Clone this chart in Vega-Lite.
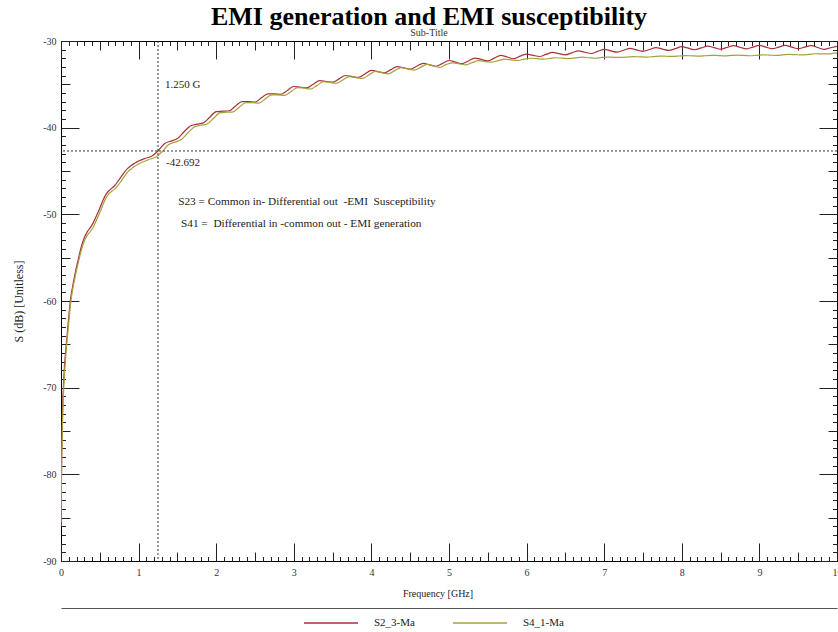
{
  "$schema": "https://vega.github.io/schema/vega-lite/v6.json",
  "width": 776,
  "height": 520,
  "autosize": {"type": "none"},
  "padding": {"left": 61, "top": 41, "right": 1, "bottom": 71},
  "background": "#ffffff",
  "title": {
    "text": "EMI generation and EMI susceptibility",
    "subtitle": "Sub-Title",
    "font": "Liberation Serif",
    "fontSize": 26,
    "fontWeight": "bold",
    "color": "#000000",
    "anchor": "middle",
    "frame": "group",
    "dx": -20,
    "offset": -2,
    "subtitleFont": "Liberation Serif",
    "subtitleFontSize": 10,
    "subtitleColor": "#333333",
    "subtitlePadding": -2
  },
  "datasets": {
    "traces": [
      {"series":"S2_3-Ma","f":0,"s":-85.5},{"series":"S2_3-Ma","f":0.005,"s":-80.5},{"series":"S2_3-Ma","f":0.012,"s":-76},{"series":"S2_3-Ma","f":0.02,"s":-72.5},{"series":"S2_3-Ma","f":0.03,"s":-70},{"series":"S2_3-Ma","f":0.045,"s":-67.5},{"series":"S2_3-Ma","f":0.06,"s":-65.8},{"series":"S2_3-Ma","f":0.08,"s":-63.8},{"series":"S2_3-Ma","f":0.1,"s":-61.8},{"series":"S2_3-Ma","f":0.12,"s":-60.0},{"series":"S2_3-Ma","f":0.15,"s":-58.3},{"series":"S2_3-Ma","f":0.18,"s":-56.9},{"series":"S2_3-Ma","f":0.22,"s":-55.3},{"series":"S2_3-Ma","f":0.26,"s":-53.8},{"series":"S2_3-Ma","f":0.3,"s":-52.7},{"series":"S2_3-Ma","f":0.34,"s":-52.0},{"series":"S2_3-Ma","f":0.38,"s":-51.5},{"series":"S2_3-Ma","f":0.42,"s":-50.9},{"series":"S2_3-Ma","f":0.46,"s":-50.1},{"series":"S2_3-Ma","f":0.5,"s":-49.3},{"series":"S2_3-Ma","f":0.54,"s":-48.4},{"series":"S2_3-Ma","f":0.58,"s":-47.7},{"series":"S2_3-Ma","f":0.62,"s":-47.25},{"series":"S2_3-Ma","f":0.66,"s":-46.95},{"series":"S2_3-Ma","f":0.7,"s":-46.6},{"series":"S2_3-Ma","f":0.74,"s":-46.1},{"series":"S2_3-Ma","f":0.78,"s":-45.6},{"series":"S2_3-Ma","f":0.82,"s":-45.1},{"series":"S2_3-Ma","f":0.86,"s":-44.7},{"series":"S2_3-Ma","f":0.9,"s":-44.4},{"series":"S2_3-Ma","f":0.94,"s":-44.15},{"series":"S2_3-Ma","f":0.97,"s":-44.0},
      {"series":"S2_3-Ma","f":1.0,"s":-43.85},{"series":"S2_3-Ma","f":1.083,"s":-43.55},{"series":"S2_3-Ma","f":1.167,"s":-43.3},{"series":"S2_3-Ma","f":1.25,"s":-42.692},
      {"series":"S2_3-Ma","f":1.333,"s":-41.85},{"series":"S2_3-Ma","f":1.417,"s":-41.55},{"series":"S2_3-Ma","f":1.5,"s":-41.25},{"series":"S2_3-Ma","f":1.583,"s":-40.5},
      {"series":"S2_3-Ma","f":1.667,"s":-39.8},{"series":"S2_3-Ma","f":1.75,"s":-39.6},{"series":"S2_3-Ma","f":1.833,"s":-39.45},{"series":"S2_3-Ma","f":1.917,"s":-38.8},
      {"series":"S2_3-Ma","f":2.0,"s":-38.15},{"series":"S2_3-Ma","f":2.083,"s":-38.1},{"series":"S2_3-Ma","f":2.167,"s":-38.05},{"series":"S2_3-Ma","f":2.25,"s":-37.5},
      {"series":"S2_3-Ma","f":2.333,"s":-37.0},{"series":"S2_3-Ma","f":2.417,"s":-37.0},{"series":"S2_3-Ma","f":2.5,"s":-37.05},{"series":"S2_3-Ma","f":2.583,"s":-36.55},
      {"series":"S2_3-Ma","f":2.667,"s":-36.1},{"series":"S2_3-Ma","f":2.75,"s":-36.1},{"series":"S2_3-Ma","f":2.833,"s":-36.15},{"series":"S2_3-Ma","f":2.917,"s":-35.7},
      {"series":"S2_3-Ma","f":3.0,"s":-35.25},{"series":"S2_3-Ma","f":3.083,"s":-35.33},{"series":"S2_3-Ma","f":3.167,"s":-35.42},{"series":"S2_3-Ma","f":3.25,"s":-35.0},
      {"series":"S2_3-Ma","f":3.333,"s":-34.58},{"series":"S2_3-Ma","f":3.417,"s":-34.67},{"series":"S2_3-Ma","f":3.5,"s":-34.75},{"series":"S2_3-Ma","f":3.583,"s":-34.37},
      {"series":"S2_3-Ma","f":3.667,"s":-33.98},{"series":"S2_3-Ma","f":3.75,"s":-34.1},{"series":"S2_3-Ma","f":3.833,"s":-34.2},{"series":"S2_3-Ma","f":3.917,"s":-33.8},
      {"series":"S2_3-Ma","f":4.0,"s":-33.4},{"series":"S2_3-Ma","f":4.083,"s":-33.53},{"series":"S2_3-Ma","f":4.167,"s":-33.67},{"series":"S2_3-Ma","f":4.25,"s":-33.3},
      {"series":"S2_3-Ma","f":4.333,"s":-32.95},{"series":"S2_3-Ma","f":4.417,"s":-33.1},{"series":"S2_3-Ma","f":4.5,"s":-33.25},{"series":"S2_3-Ma","f":4.583,"s":-32.92},
      {"series":"S2_3-Ma","f":4.667,"s":-32.58},{"series":"S2_3-Ma","f":4.75,"s":-32.75},{"series":"S2_3-Ma","f":4.833,"s":-32.92},{"series":"S2_3-Ma","f":4.917,"s":-32.58},
      {"series":"S2_3-Ma","f":5.0,"s":-32.25},{"series":"S2_3-Ma","f":5.083,"s":-32.43},{"series":"S2_3-Ma","f":5.167,"s":-32.62},{"series":"S2_3-Ma","f":5.25,"s":-32.3},
      {"series":"S2_3-Ma","f":5.333,"s":-31.97},{"series":"S2_3-Ma","f":5.417,"s":-32.13},{"series":"S2_3-Ma","f":5.5,"s":-32.3},{"series":"S2_3-Ma","f":5.583,"s":-31.98},
      {"series":"S2_3-Ma","f":5.667,"s":-31.67},{"series":"S2_3-Ma","f":5.75,"s":-31.85},{"series":"S2_3-Ma","f":5.833,"s":-32.05},{"series":"S2_3-Ma","f":5.917,"s":-31.75},
      {"series":"S2_3-Ma","f":6.0,"s":-31.51},{"series":"S2_3-Ma","f":6.083,"s":-31.65},{"series":"S2_3-Ma","f":6.167,"s":-31.79},{"series":"S2_3-Ma","f":6.25,"s":-31.55},
      {"series":"S2_3-Ma","f":6.333,"s":-31.31},{"series":"S2_3-Ma","f":6.417,"s":-31.45},{"series":"S2_3-Ma","f":6.5,"s":-31.59},{"series":"S2_3-Ma","f":6.583,"s":-31.37},
      {"series":"S2_3-Ma","f":6.667,"s":-31.14},{"series":"S2_3-Ma","f":6.75,"s":-31.3},{"series":"S2_3-Ma","f":6.833,"s":-31.44},{"series":"S2_3-Ma","f":6.917,"s":-31.2},
      {"series":"S2_3-Ma","f":7.0,"s":-30.96},{"series":"S2_3-Ma","f":7.083,"s":-31.13},{"series":"S2_3-Ma","f":7.167,"s":-31.29},{"series":"S2_3-Ma","f":7.25,"s":-31.07},
      {"series":"S2_3-Ma","f":7.333,"s":-30.86},{"series":"S2_3-Ma","f":7.417,"s":-31.03},{"series":"S2_3-Ma","f":7.5,"s":-31.19},{"series":"S2_3-Ma","f":7.583,"s":-30.98},
      {"series":"S2_3-Ma","f":7.667,"s":-30.76},{"series":"S2_3-Ma","f":7.75,"s":-30.93},{"series":"S2_3-Ma","f":7.833,"s":-31.09},{"series":"S2_3-Ma","f":7.917,"s":-30.88},
      {"series":"S2_3-Ma","f":8.0,"s":-30.66},{"series":"S2_3-Ma","f":8.083,"s":-30.83},{"series":"S2_3-Ma","f":8.167,"s":-31.01},{"series":"S2_3-Ma","f":8.25,"s":-30.8},
      {"series":"S2_3-Ma","f":8.333,"s":-30.59},{"series":"S2_3-Ma","f":8.417,"s":-30.77},{"series":"S2_3-Ma","f":8.5,"s":-30.94},{"series":"S2_3-Ma","f":8.583,"s":-30.74},
      {"series":"S2_3-Ma","f":8.667,"s":-30.54},{"series":"S2_3-Ma","f":8.75,"s":-30.72},{"series":"S2_3-Ma","f":8.833,"s":-30.9},{"series":"S2_3-Ma","f":8.917,"s":-30.7},
      {"series":"S2_3-Ma","f":9.0,"s":-30.51},{"series":"S2_3-Ma","f":9.083,"s":-30.7},{"series":"S2_3-Ma","f":9.167,"s":-30.89},{"series":"S2_3-Ma","f":9.25,"s":-30.7},
      {"series":"S2_3-Ma","f":9.333,"s":-30.51},{"series":"S2_3-Ma","f":9.417,"s":-30.7},{"series":"S2_3-Ma","f":9.5,"s":-30.89},{"series":"S2_3-Ma","f":9.583,"s":-30.71},
      {"series":"S2_3-Ma","f":9.667,"s":-30.54},{"series":"S2_3-Ma","f":9.75,"s":-30.75},{"series":"S2_3-Ma","f":9.833,"s":-30.96},{"series":"S2_3-Ma","f":9.917,"s":-30.78},
      {"series":"S2_3-Ma","f":10.0,"s":-30.61},

      {"series":"S4_1-Ma","f":0,"s":-86},{"series":"S4_1-Ma","f":0.004,"s":-82},{"series":"S4_1-Ma","f":0.01,"s":-78},{"series":"S4_1-Ma","f":0.02,"s":-74},{"series":"S4_1-Ma","f":0.03,"s":-71.2},{"series":"S4_1-Ma","f":0.045,"s":-68.5},{"series":"S4_1-Ma","f":0.06,"s":-66.5},{"series":"S4_1-Ma","f":0.08,"s":-64.4},{"series":"S4_1-Ma","f":0.1,"s":-62.5},{"series":"S4_1-Ma","f":0.12,"s":-60.6},{"series":"S4_1-Ma","f":0.15,"s":-58.7},{"series":"S4_1-Ma","f":0.18,"s":-57.3},{"series":"S4_1-Ma","f":0.22,"s":-55.7},{"series":"S4_1-Ma","f":0.26,"s":-54.2},{"series":"S4_1-Ma","f":0.3,"s":-53.1},{"series":"S4_1-Ma","f":0.34,"s":-52.4},{"series":"S4_1-Ma","f":0.38,"s":-51.95},{"series":"S4_1-Ma","f":0.42,"s":-51.4},{"series":"S4_1-Ma","f":0.46,"s":-50.6},{"series":"S4_1-Ma","f":0.5,"s":-49.8},{"series":"S4_1-Ma","f":0.54,"s":-48.9},{"series":"S4_1-Ma","f":0.58,"s":-48.1},{"series":"S4_1-Ma","f":0.62,"s":-47.6},{"series":"S4_1-Ma","f":0.66,"s":-47.3},{"series":"S4_1-Ma","f":0.7,"s":-47.0},{"series":"S4_1-Ma","f":0.74,"s":-46.6},{"series":"S4_1-Ma","f":0.78,"s":-46.1},{"series":"S4_1-Ma","f":0.82,"s":-45.6},{"series":"S4_1-Ma","f":0.86,"s":-45.1},{"series":"S4_1-Ma","f":0.9,"s":-44.8},{"series":"S4_1-Ma","f":0.94,"s":-44.5},{"series":"S4_1-Ma","f":0.98,"s":-44.3},{"series":"S4_1-Ma","f":1.02,"s":-44.1},
      {"series":"S4_1-Ma","f":1.05,"s":-43.97},{"series":"S4_1-Ma","f":1.133,"s":-43.67},{"series":"S4_1-Ma","f":1.217,"s":-43.42},{"series":"S4_1-Ma","f":1.3,"s":-42.81},
      {"series":"S4_1-Ma","f":1.383,"s":-41.97},{"series":"S4_1-Ma","f":1.467,"s":-41.67},{"series":"S4_1-Ma","f":1.55,"s":-41.37},{"series":"S4_1-Ma","f":1.633,"s":-40.62},
      {"series":"S4_1-Ma","f":1.717,"s":-39.92},{"series":"S4_1-Ma","f":1.8,"s":-39.72},{"series":"S4_1-Ma","f":1.883,"s":-39.57},{"series":"S4_1-Ma","f":1.967,"s":-38.92},
      {"series":"S4_1-Ma","f":2.05,"s":-38.27},{"series":"S4_1-Ma","f":2.133,"s":-38.22},{"series":"S4_1-Ma","f":2.217,"s":-38.17},{"series":"S4_1-Ma","f":2.3,"s":-37.62},
      {"series":"S4_1-Ma","f":2.383,"s":-37.12},{"series":"S4_1-Ma","f":2.467,"s":-37.12},{"series":"S4_1-Ma","f":2.55,"s":-37.17},{"series":"S4_1-Ma","f":2.633,"s":-36.67},
      {"series":"S4_1-Ma","f":2.717,"s":-36.22},{"series":"S4_1-Ma","f":2.8,"s":-36.22},{"series":"S4_1-Ma","f":2.883,"s":-36.27},{"series":"S4_1-Ma","f":2.967,"s":-35.82},
      {"series":"S4_1-Ma","f":3.05,"s":-35.37},{"series":"S4_1-Ma","f":3.133,"s":-35.45},{"series":"S4_1-Ma","f":3.217,"s":-35.54},{"series":"S4_1-Ma","f":3.3,"s":-35.12},
      {"series":"S4_1-Ma","f":3.383,"s":-34.7},{"series":"S4_1-Ma","f":3.467,"s":-34.79},{"series":"S4_1-Ma","f":3.55,"s":-34.87},{"series":"S4_1-Ma","f":3.633,"s":-34.49},
      {"series":"S4_1-Ma","f":3.717,"s":-34.1},{"series":"S4_1-Ma","f":3.8,"s":-34.22},{"series":"S4_1-Ma","f":3.883,"s":-34.32},{"series":"S4_1-Ma","f":3.967,"s":-33.92},
      {"series":"S4_1-Ma","f":4.05,"s":-33.52},{"series":"S4_1-Ma","f":4.133,"s":-33.65},{"series":"S4_1-Ma","f":4.217,"s":-33.79},{"series":"S4_1-Ma","f":4.3,"s":-33.42},
      {"series":"S4_1-Ma","f":4.383,"s":-33.07},{"series":"S4_1-Ma","f":4.467,"s":-33.22},{"series":"S4_1-Ma","f":4.55,"s":-33.37},{"series":"S4_1-Ma","f":4.633,"s":-33.04},
      {"series":"S4_1-Ma","f":4.717,"s":-32.7},{"series":"S4_1-Ma","f":4.8,"s":-32.87},{"series":"S4_1-Ma","f":4.883,"s":-33.04},{"series":"S4_1-Ma","f":4.967,"s":-32.7},
      {"series":"S4_1-Ma","f":5.05,"s":-32.52},{"series":"S4_1-Ma","f":5.133,"s":-32.63},{"series":"S4_1-Ma","f":5.217,"s":-32.75},{"series":"S4_1-Ma","f":5.3,"s":-32.5},
      {"series":"S4_1-Ma","f":5.383,"s":-32.27},{"series":"S4_1-Ma","f":5.467,"s":-32.38},{"series":"S4_1-Ma","f":5.55,"s":-32.44},{"series":"S4_1-Ma","f":5.633,"s":-32.27},
      {"series":"S4_1-Ma","f":5.717,"s":-32.1},{"series":"S4_1-Ma","f":5.8,"s":-32.18},{"series":"S4_1-Ma","f":5.883,"s":-32.25},{"series":"S4_1-Ma","f":5.967,"s":-32.09},
      {"series":"S4_1-Ma","f":6.05,"s":-31.99},{"series":"S4_1-Ma","f":6.133,"s":-32.04},{"series":"S4_1-Ma","f":6.217,"s":-32.1},{"series":"S4_1-Ma","f":6.3,"s":-32.01},
      {"series":"S4_1-Ma","f":6.383,"s":-31.93},{"series":"S4_1-Ma","f":6.467,"s":-31.98},{"series":"S4_1-Ma","f":6.55,"s":-32.03},{"series":"S4_1-Ma","f":6.633,"s":-31.95},
      {"series":"S4_1-Ma","f":6.717,"s":-31.87},{"series":"S4_1-Ma","f":6.8,"s":-31.93},{"series":"S4_1-Ma","f":6.883,"s":-31.99},{"series":"S4_1-Ma","f":6.967,"s":-31.9},
      {"series":"S4_1-Ma","f":7.05,"s":-31.85},{"series":"S4_1-Ma","f":7.133,"s":-31.88},{"series":"S4_1-Ma","f":7.217,"s":-31.9},{"series":"S4_1-Ma","f":7.3,"s":-31.85},
      {"series":"S4_1-Ma","f":7.383,"s":-31.8},{"series":"S4_1-Ma","f":7.467,"s":-31.83},{"series":"S4_1-Ma","f":7.55,"s":-31.85},{"series":"S4_1-Ma","f":7.633,"s":-31.8},
      {"series":"S4_1-Ma","f":7.717,"s":-31.74},{"series":"S4_1-Ma","f":7.8,"s":-31.76},{"series":"S4_1-Ma","f":7.883,"s":-31.78},{"series":"S4_1-Ma","f":7.967,"s":-31.73},
      {"series":"S4_1-Ma","f":8.05,"s":-31.68},{"series":"S4_1-Ma","f":8.133,"s":-31.71},{"series":"S4_1-Ma","f":8.217,"s":-31.75},{"series":"S4_1-Ma","f":8.3,"s":-31.7},
      {"series":"S4_1-Ma","f":8.383,"s":-31.65},{"series":"S4_1-Ma","f":8.467,"s":-31.68},{"series":"S4_1-Ma","f":8.55,"s":-31.72},{"series":"S4_1-Ma","f":8.633,"s":-31.67},
      {"series":"S4_1-Ma","f":8.717,"s":-31.63},{"series":"S4_1-Ma","f":8.8,"s":-31.66},{"series":"S4_1-Ma","f":8.883,"s":-31.7},{"series":"S4_1-Ma","f":8.967,"s":-31.65},
      {"series":"S4_1-Ma","f":9.05,"s":-31.6},{"series":"S4_1-Ma","f":9.133,"s":-31.63},{"series":"S4_1-Ma","f":9.217,"s":-31.66},{"series":"S4_1-Ma","f":9.3,"s":-31.6},
      {"series":"S4_1-Ma","f":9.383,"s":-31.55},{"series":"S4_1-Ma","f":9.467,"s":-31.58},{"series":"S4_1-Ma","f":9.55,"s":-31.6},{"series":"S4_1-Ma","f":9.633,"s":-31.54},
      {"series":"S4_1-Ma","f":9.717,"s":-31.47},{"series":"S4_1-Ma","f":9.8,"s":-31.48},{"series":"S4_1-Ma","f":9.883,"s":-31.49},{"series":"S4_1-Ma","f":9.967,"s":-31.41},
      {"series":"S4_1-Ma","f":10.0,"s":-31.4}
    ],
    "cursor": [{"f": 1.25, "s": -42.692, "flabel": "1.250 G", "slabel": "-42.692"}],
    "notes": [
      {"f": 1.51, "s": -48.55, "text": "S23 = Common in- Differential out \u00a0-EMI \u00a0Susceptibility"},
      {"f": 1.546, "s": -51.09, "text": "S41 = \u00a0Differential in -common out - EMI generation"}
    ]
  },
  "layer": [
    {
      "data": {"name": "traces"},
      "mark": {"type": "line", "strokeWidth": 1.2, "interpolate": "monotone", "clip": true},
      "encoding": {
        "x": {
          "field": "f", "type": "quantitative",
          "scale": {"domain": [0, 10], "nice": false, "zero": false},
          "axis": {
            "orient": "bottom",
            "title": "Frequency [GHz]",
            "titleX": 376.5,
            "titleY": 27,
            "titleBaseline": "top",
            "values": [0,0.1,0.2,0.3,0.4,0.5,0.6,0.7,0.8,0.9,1,1.1,1.2,1.3,1.4,1.5,1.6,1.7,1.8,1.9,2,2.1,2.2,2.3,2.4,2.5,2.6,2.7,2.8,2.9,3,3.1,3.2,3.3,3.4,3.5,3.6,3.7,3.8,3.9,4,4.1,4.2,4.3,4.4,4.5,4.6,4.7,4.8,4.9,5,5.1,5.2,5.3,5.4,5.5,5.6,5.7,5.8,5.9,6,6.1,6.2,6.3,6.4,6.5,6.6,6.7,6.8,6.9,7,7.1,7.2,7.3,7.4,7.5,7.6,7.7,7.8,7.9,8,8.1,8.2,8.3,8.4,8.5,8.6,8.7,8.8,8.9,9,9.1,9.2,9.3,9.4,9.5,9.6,9.7,9.8,9.9,10],
            "tickSize": {"condition": [{"test": "abs(datum.value - round(datum.value)) < 0.01", "value": -18}, {"test": "abs(datum.value * 2 - round(datum.value * 2)) < 0.01", "value": -9}], "value": -4.5},
            "labelExpr": "abs(datum.value - round(datum.value)) < 0.01 ? format(datum.value, 'd') : ''",
            "labelPadding": 24,
            "labelOverlap": false,
            "labelFlush": false,
            "labelBound": false
          }
        },
        "y": {
          "field": "s", "type": "quantitative",
          "scale": {"domain": [-90, -30], "nice": false, "zero": false},
          "axis": {
            "orient": "left",
            "title": "S (dB) [Unitless]",
            "titleFontSize": 12,
            "titlePadding": 17,
            "values": [-90,-89,-88,-87,-86,-85,-84,-83,-82,-81,-80,-79,-78,-77,-76,-75,-74,-73,-72,-71,-70,-69,-68,-67,-66,-65,-64,-63,-62,-61,-60,-59,-58,-57,-56,-55,-54,-53,-52,-51,-50,-49,-48,-47,-46,-45,-44,-43,-42,-41,-40,-39,-38,-37,-36,-35,-34,-33,-32,-31,-30],
            "tickSize": {"condition": [{"test": "datum.value % 10 === 0", "value": -18}, {"test": "datum.value % 5 === 0", "value": -9}], "value": -4.5},
            "labelExpr": "datum.value % 10 === 0 ? datum.value + '' : ''",
            "labelPadding": 23,
            "labelOverlap": false,
            "labelFlush": false,
            "labelBound": false
          }
        },
        "color": {
          "field": "series", "type": "nominal",
          "scale": {"domain": ["S2_3-Ma", "S4_1-Ma"], "range": ["#a8323a", "#a6a23a"]},
          "legend": {
            "orient": "none",
            "legendX": 242,
            "legendY": 575,
            "direction": "horizontal",
            "title": null,
            "symbolType": "stroke",
            "symbolSize": 2916,
            "symbolStrokeWidth": 1.5,
            "clipHeight": 14,
            "labelOffset": 15,
            "labelFont": "Liberation Serif",
            "labelFontSize": 11,
            "labelColor": "#222222",
            "columnPadding": 37,
            "padding": 0
          }
        }
      }
    },
    {
      "data": {"name": "cursor"},
      "mark": {"type": "rule", "color": "#333333", "strokeDash": [2, 2], "strokeWidth": 1},
      "encoding": {
        "x": {
          "field": "f", "type": "quantitative",
          "scale": {"domain": [0, 10], "nice": false, "zero": false},
          "axis": {"orient": "bottom", "offset": 47, "domain": true, "domainColor": "#555555", "domainWidth": 1, "ticks": false, "labels": false, "title": null}
        }
      }
    },
    {
      "data": {"name": "cursor"},
      "mark": {"type": "rule", "color": "#333333", "strokeDash": [2, 2], "strokeWidth": 1},
      "encoding": {
        "y": {"field": "s", "type": "quantitative", "scale": {"domain": [-90, -30], "nice": false, "zero": false}, "axis": null}
      }
    },
    {
      "data": {"name": "cursor"},
      "mark": {"type": "text", "align": "left", "baseline": "middle", "dx": 8, "dy": 12.5, "font": "Liberation Serif", "fontSize": 11, "color": "#222222"},
      "encoding": {
        "x": {"field": "f", "type": "quantitative", "scale": {"domain": [0, 10], "nice": false, "zero": false}, "axis": null},
        "y": {"field": "s", "type": "quantitative", "scale": {"domain": [-90, -30], "nice": false, "zero": false}, "axis": null},
        "text": {"field": "slabel", "type": "nominal"}
      }
    },
    {
      "data": {"name": "cursor"},
      "mark": {"type": "text", "align": "left", "baseline": "middle", "dx": 7, "font": "Liberation Serif", "fontSize": 11, "color": "#222222"},
      "encoding": {
        "x": {"field": "f", "type": "quantitative", "scale": {"domain": [0, 10], "nice": false, "zero": false}, "axis": null},
        "y": {"datum": -35.1, "type": "quantitative", "scale": {"domain": [-90, -30], "nice": false, "zero": false}, "axis": null},
        "text": {"field": "flabel", "type": "nominal"}
      }
    },
    {
      "data": {"name": "notes"},
      "mark": {"type": "text", "align": "left", "baseline": "middle", "font": "Liberation Serif", "fontSize": 11.3, "color": "#222222"},
      "encoding": {
        "x": {
          "field": "f", "type": "quantitative",
          "scale": {"domain": [0, 10], "nice": false, "zero": false},
          "axis": {
            "orient": "top",
            "title": null,
            "labels": false,
            "values": [0,0.1,0.2,0.3,0.4,0.5,0.6,0.7,0.8,0.9,1,1.1,1.2,1.3,1.4,1.5,1.6,1.7,1.8,1.9,2,2.1,2.2,2.3,2.4,2.5,2.6,2.7,2.8,2.9,3,3.1,3.2,3.3,3.4,3.5,3.6,3.7,3.8,3.9,4,4.1,4.2,4.3,4.4,4.5,4.6,4.7,4.8,4.9,5,5.1,5.2,5.3,5.4,5.5,5.6,5.7,5.8,5.9,6,6.1,6.2,6.3,6.4,6.5,6.6,6.7,6.8,6.9,7,7.1,7.2,7.3,7.4,7.5,7.6,7.7,7.8,7.9,8,8.1,8.2,8.3,8.4,8.5,8.6,8.7,8.8,8.9,9,9.1,9.2,9.3,9.4,9.5,9.6,9.7,9.8,9.9,10],
            "tickSize": {"condition": [{"test": "abs(datum.value - round(datum.value)) < 0.01", "value": -18}, {"test": "abs(datum.value * 2 - round(datum.value * 2)) < 0.01", "value": -9}], "value": -4.5}
          }
        },
        "y": {
          "field": "s", "type": "quantitative",
          "scale": {"domain": [-90, -30], "nice": false, "zero": false},
          "axis": {
            "orient": "right",
            "title": null,
            "labels": false,
            "values": [-90,-89,-88,-87,-86,-85,-84,-83,-82,-81,-80,-79,-78,-77,-76,-75,-74,-73,-72,-71,-70,-69,-68,-67,-66,-65,-64,-63,-62,-61,-60,-59,-58,-57,-56,-55,-54,-53,-52,-51,-50,-49,-48,-47,-46,-45,-44,-43,-42,-41,-40,-39,-38,-37,-36,-35,-34,-33,-32,-31,-30],
            "tickSize": {"condition": [{"test": "datum.value % 10 === 0", "value": -18}, {"test": "datum.value % 5 === 0", "value": -9}], "value": -4.5}
          }
        },
        "text": {"field": "text", "type": "nominal"}
      }
    }
  ],
  "resolve": {"axis": {"x": "independent", "y": "independent"}},
  "config": {
    "view": {"stroke": "#000000", "strokeWidth": 1},
    "axis": {
      "domain": false,
      "grid": false,
      "tickColor": "#222222",
      "tickWidth": 1,
      "labelFont": "Liberation Serif",
      "labelFontSize": 10,
      "labelColor": "#333333",
      "titleFont": "Liberation Serif",
      "titleFontSize": 10,
      "titleFontWeight": "normal",
      "titleColor": "#222222"
    }
  }
}
